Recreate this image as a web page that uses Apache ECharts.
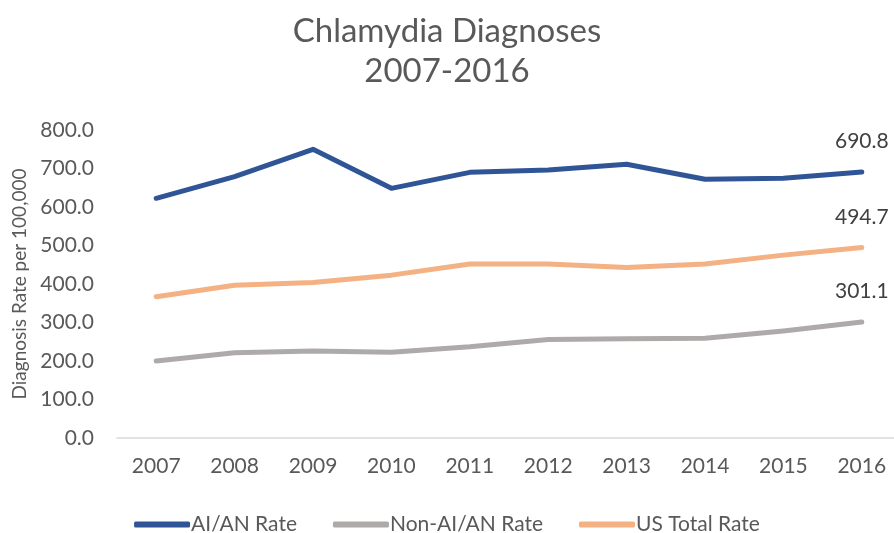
<!DOCTYPE html>
<html>
<head>
<meta charset="utf-8" />
<title>Chlamydia Diagnoses</title>
<script src="https://cdn.jsdelivr.net/npm/echarts@6/dist/echarts.min.js"></script>
<style>
  html, body { margin: 0; padding: 0; background: #fff; }
  #main { width: 894px; height: 533px; }
</style>
</head>
<body>
<div id="main"></div>
<script type="text/javascript">
var years = ['2007', '2008', '2009', '2010', '2011', '2012', '2013', '2014', '2015', '2016'];
var aianRate = [622.6, 678.7, 749.8, 648.5, 690.0, 696.0, 711.0, 672.0, 674.5, 690.8];
var nonAianRate = [200.0, 221.6, 226.0, 222.6, 237.0, 256.0, 258.0, 259.0, 278.0, 301.1];
var usTotalRate = [367.0, 397.0, 404.0, 423.0, 452.0, 452.0, 443.0, 452.0, 475.0, 494.7];

var fontFam = 'Lato, "Open Sans", sans-serif';
var textCol = '#595959';

// label only on the last point
function lastLabel(arr) {
    return arr.map(function (v, i) {
        if (i === arr.length - 1) {
            return { value: v, label: { show: true } };
        }
        return v;
    });
}

function lineSeries(name, arr, color) {
    return {
        name: name,
        type: 'line',
        data: lastLabel(arr),
        symbol: 'circle',
        symbolSize: 0,
        showSymbol: true,
        color: color,
        lineStyle: { width: 5, cap: 'round', join: 'round' },
        label: { show: false, position: 'top', distance: 20, color: '#404040', fontSize: 21, fontFamily: fontFam }
    };
}

var myChart = echarts.init(document.getElementById('main'));
var option = {
    animation: false,
    title: {
        text: 'Chlamydia Diagnoses\n2007-2016',
        left: 'center',
        top: 6,
        textStyle: {
            color: textCol,
            fontSize: 33,
            fontWeight: 'normal',
            fontFamily: fontFam,
            lineHeight: 40
        }
    },
    legend: {
        bottom: -7,
        left: 'center',
        itemWidth: 56,
        itemHeight: 6,
        itemGap: 36,
        icon: 'roundRect',
        textStyle: { color: textCol, fontSize: 21, fontFamily: fontFam, padding: [0, 0, 0, -4] },
        data: ['AI/AN Rate', 'Non-AI/AN Rate', 'US Total Rate']
    },
    grid: {
        left: 117,
        right: -7,
        top: 130,
        bottom: 95,
        outerBoundsMode: 'none'
    },
    xAxis: {
        type: 'category',
        data: years,
        boundaryGap: true,
        axisLine: { lineStyle: { color: '#D9D9D9', width: 1.5 } },
        axisTick: { show: false },
        axisLabel: { color: textCol, fontSize: 21, fontFamily: fontFam, margin: 18 }
    },
    yAxis: {
        type: 'value',
        min: 0,
        max: 800,
        interval: 100,
        name: 'Diagnosis Rate per 100,000',
        nameLocation: 'middle',
        nameGap: 86,
        nameTextStyle: { color: textCol, fontSize: 19, fontFamily: fontFam },
        splitLine: { show: false },
        axisLine: { show: false },
        axisTick: { show: false },
        axisLabel: {
            color: textCol,
            fontSize: 21,
            fontFamily: fontFam,
            margin: 23,
            formatter: function (v) { return v.toFixed(1); }
        }
    },
    series: [
        lineSeries('AI/AN Rate', aianRate, '#2F5597'),
        lineSeries('Non-AI/AN Rate', nonAianRate, '#AEAAAA'),
        lineSeries('US Total Rate', usTotalRate, '#F4B183')
    ]
};
myChart.setOption(option);
</script>
</body>
</html>
